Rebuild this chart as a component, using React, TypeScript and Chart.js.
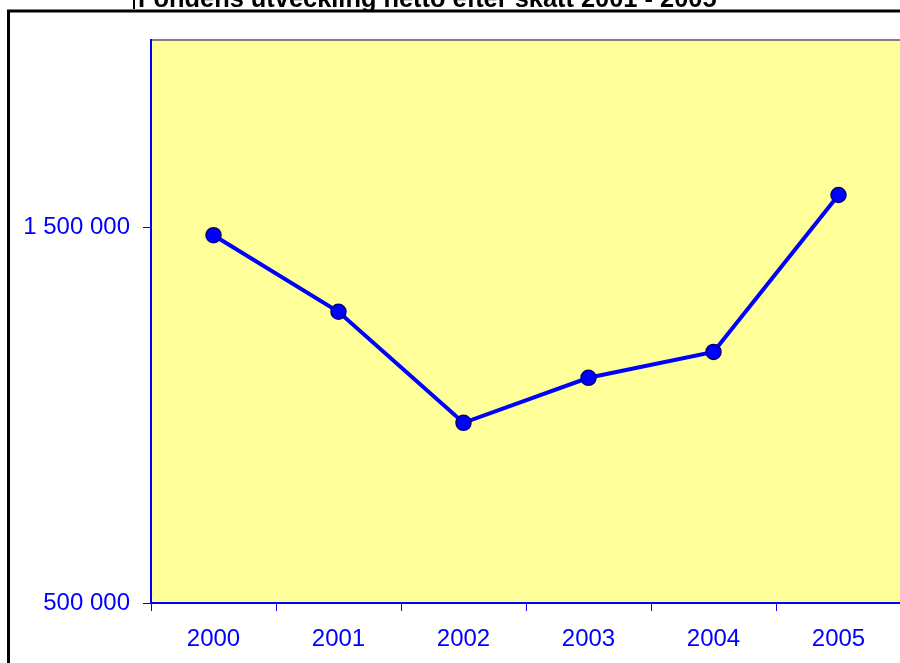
import React, { useEffect, useRef } from "react";
import { Chart, registerables } from "chart.js";

Chart.register(...registerables);

const categories = ["2000", "2001", "2002", "2003", "2004", "2005"];
const values = [1480000, 1276000, 980000, 1100000, 1169000, 1587000];
const yTickValues = [500000, 1500000];
const titleText = "Fondens utveckling netto efter skatt 2001 - 2005";

const FONT = '"Liberation Sans", Arial, sans-serif';

const framePlugin = {
  id: "framePlugin",
  beforeDraw(chart: any) {
    const { ctx, chartArea } = chart;
    ctx.save();
    ctx.fillStyle = "#FFFFFF";
    ctx.fillRect(0, 0, chart.width, chart.height);
    ctx.fillStyle = "#FFFF99";
    ctx.fillRect(chartArea.left, chartArea.top, chartArea.right - chartArea.left, chartArea.bottom - chartArea.top);
    // plot area top border (gray)
    ctx.strokeStyle = "#808080";
    ctx.lineWidth = 2;
    ctx.beginPath();
    ctx.moveTo(chartArea.left, chartArea.top);
    ctx.lineTo(chartArea.right + 10, chartArea.top);
    ctx.stroke();
    // outer chart frame (black)
    ctx.strokeStyle = "#000000";
    ctx.lineWidth = 3;
    ctx.strokeRect(8.5, 11, 3000, 3000);
    // title
    ctx.fillStyle = "#000000";
    ctx.font = "bold 25.4px " + FONT;
    ctx.textAlign = "left";
    ctx.textBaseline = "alphabetic";
    ctx.fillText(titleText, 138, 7);
    ctx.fillRect(133, 0, 2, 9);
    ctx.restore();
  },
};

export default function App() {
  const ref = useRef<HTMLCanvasElement | null>(null);
  useEffect(() => {
    const canvas = ref.current;
    if (!canvas) return;
    const chart = new Chart(canvas, {
      type: "line",
      data: {
        labels: categories,
        datasets: [
          {
            data: values,
            borderColor: "#0000FF",
            borderWidth: 4,
            pointRadius: 7.5,
            pointBackgroundColor: "#0000FF",
            pointBorderColor: "#000080",
            pointBorderWidth: 1.5,
            tension: 0,
            fill: false,
          },
        ],
      },
      options: {
        responsive: false,
        animation: false,
        devicePixelRatio: 1,
        layout: { padding: { left: 0, top: 40, right: 99, bottom: 0 } },
        plugins: {
          legend: { display: false },
          title: { display: false },
          tooltip: { enabled: false },
        },
        scales: {
          x: {
            type: "category",
            offset: true,
            grid: {
              drawOnChartArea: false,
              offset: true,
              color: "#0000FF",
              tickLength: 8,
              lineWidth: 1,
            },
            border: { color: "#0000FF", width: 2 },
            ticks: {
              color: "#0000FF",
              font: { family: FONT, size: 24 },
              padding: 14,
              maxRotation: 0,
            },
            afterFit(scale: any) {
              scale.height = 60;
            },
          },
          y: {
            type: "linear",
            min: 500000,
            max: 2000000,
            grid: {
              drawOnChartArea: false,
              color: "#0000FF",
              tickLength: 8,
              lineWidth: 1,
            },
            border: { color: "#0000FF", width: 2 },
            ticks: {
              color: "#0000FF",
              font: { family: FONT, size: 24 },
              padding: 13,
              callback: (v: any) => String(Math.round(Number(v))).replace(/\B(?=(\d{3})+(?!\d))/g, " "),
            },
            afterBuildTicks(scale: any) {
              scale.ticks = yTickValues.map((v) => ({ value: v }));
            },
            afterFit(scale: any) {
              scale.width = 151;
            },
          },
        },
      },
      plugins: [framePlugin],
    });
    return () => chart.destroy();
  }, []);
  return (
    <div style={{ position: "fixed", left: 0, top: 0, width: 900, height: 663, overflow: "hidden", background: "#FFFFFF" }}>
      <canvas ref={ref} width={1000} height={663} style={{ width: 1000, height: 663, display: "block" }} />
    </div>
  );
}
